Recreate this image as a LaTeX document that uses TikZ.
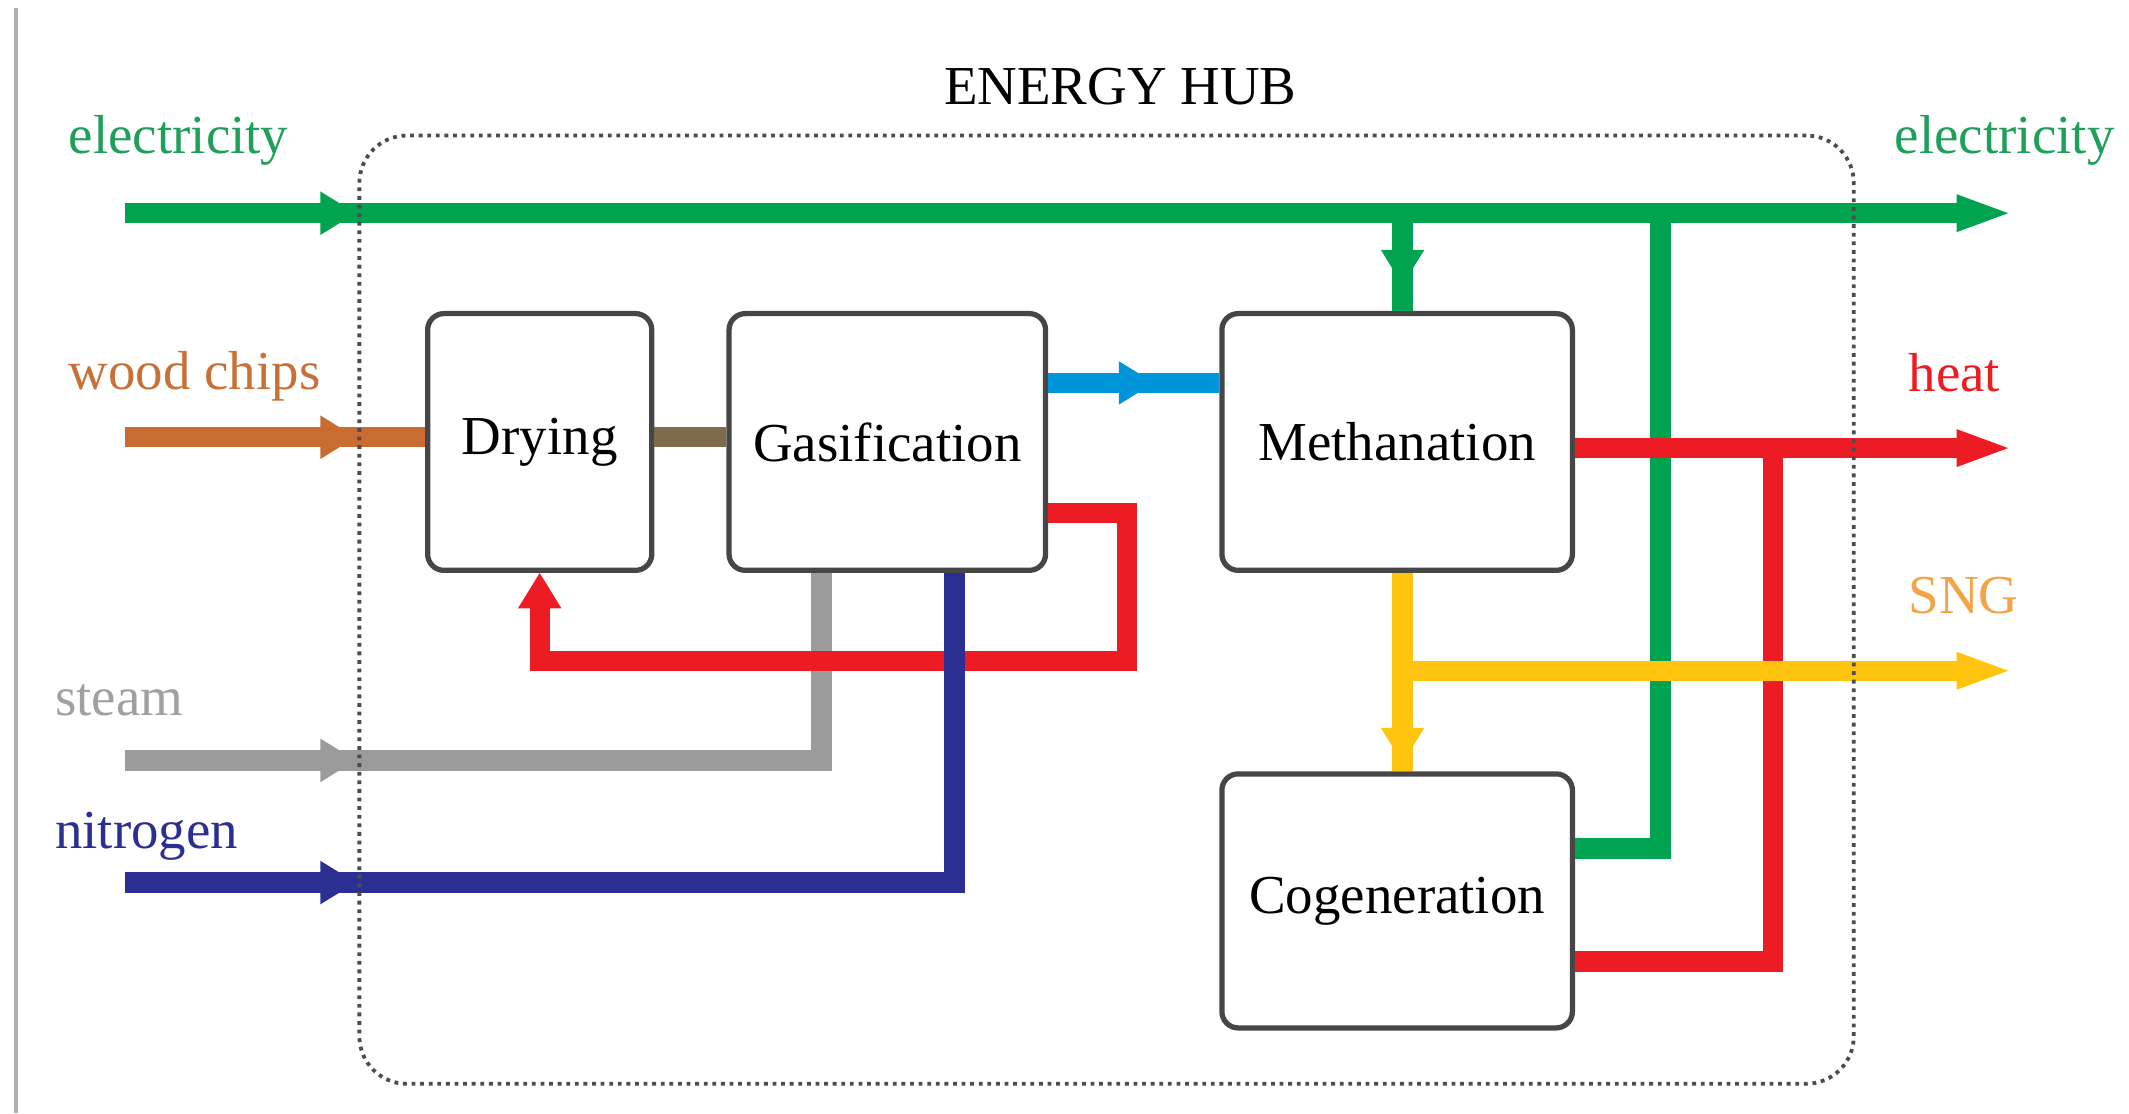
\documentclass[tikz,border=0pt]{standalone}
\usepackage{fontspec}
\setmainfont{Liberation Serif}
\usetikzlibrary{arrows.meta}
\definecolor{cGreen}{RGB}{0,163,80}
\definecolor{cGreenT}{RGB}{30,160,90}
\definecolor{cOrange}{RGB}{201,108,50}
\definecolor{cOrangeT}{RGB}{200,113,55}
\definecolor{cBrown}{RGB}{128,106,76}
\definecolor{cBlue}{RGB}{0,149,218}
\definecolor{cRed}{RGB}{237,28,36}
\definecolor{cGray}{RGB}{155,155,155}
\definecolor{cGrayT}{RGB}{160,160,160}
\definecolor{cNavy}{RGB}{43,46,146}
\definecolor{cYellow}{RGB}{255,196,14}
\definecolor{cSNG}{RGB}{244,163,69}
\definecolor{cBox}{RGB}{70,70,70}
\tikzset{
  flow/.style={draw=#1, line width=4.27pt},
  inhead/.style={-{Triangle[length=0.26cm,width=0.32cm,line width=0pt]}},
  outhead/.style={-{Triangle[length=0.38cm,width=0.28cm,line width=0pt]}},
  unit/.style={draw=cBox, fill=white, line width=1.1pt, rounded corners=0.12cm,
    inner sep=0pt, font=\fontsize{11.5}{13}\selectfont},
  lbl/.style={inner sep=0pt, font=\fontsize{11.5}{13}\selectfont},
}
\begin{document}
\begin{tikzpicture}[x=0.01cm, y=-0.01cm]
\useasboundingbox (0,0) rectangle (1568,820);
% left frame line
\coordinate (fTop) at (12,6);
\coordinate (fBot) at (12,820);
\draw[cGray!80, line width=0.8pt] (fTop) -- (fBot);

% process units
\node[unit, minimum width=1.65cm, minimum height=1.89cm] (dry) at (397.5,325.5) {Drying};
\node[unit, minimum width=2.33cm, minimum height=1.89cm] (gas) at (653.5,325.5) {Gasification};
\node[unit, minimum width=2.58cm, minimum height=1.89cm] (meth) at (1029,325.5) {Methanation};
\node[unit, minimum width=2.58cm, minimum height=1.87cm] (cog) at (1029,663.5) {Cogeneration};

% coordinates of flows
\coordinate (eIn) at (92,157);
\coordinate (eTip) at (262,157);
\coordinate (eOut) at (1479,157);
\coordinate (eDown) at (1033,157);
\coordinate (eDownTip) at (1033,210);
\coordinate (eCogA) at (1223,625);
\coordinate (eCogB) at (1223,157);
\coordinate (wIn) at (92,322);
\coordinate (wTip) at (262,322);
\coordinate (bl) at (780,282);
\coordinate (blTip) at (850,282);
\coordinate (fbA) at (830,378);
\coordinate (fbB) at (830,487);
\coordinate (sIn) at (92,560);
\coordinate (sTip) at (262,560);
\coordinate (sCorner) at (605,560);
\coordinate (nIn) at (92,650);
\coordinate (nTip) at (262,650);
\coordinate (nCorner) at (703,650);
\coordinate (hOut) at (1479,330);
\coordinate (hCogA) at (1306,708);
\coordinate (hCogB) at (1306,330);
\coordinate (yTip) at (1033,562);
\coordinate (yJoin) at (1033,494);
\coordinate (gOut) at (1479,494);

% electricity
\draw[flow=cGreen, outhead] (eIn) -- (eOut);
\draw[flow=cGreen, inhead] (eIn) -- (eTip);
\draw[flow=cGreen] (eDown) -- (eDown |- meth.north);
\draw[flow=cGreen, inhead] (eDown) -- (eDownTip);
\draw[flow=cGreen] (cog.east |- eCogA) -- (eCogA) -- (eCogB);
% steam
\draw[flow=cGray] (sIn) -- (sCorner) -- (sCorner |- gas.south);
\draw[flow=cGray, inhead] (sIn) -- (sTip);
% heat recycle
\draw[flow=cRed, inhead] (gas.east |- fbA) -- (fbA) -- (fbB) -- (dry.south |- fbB) -- (dry.south);
% nitrogen
\draw[flow=cNavy] (nIn) -- (nCorner) -- (nCorner |- gas.south);
\draw[flow=cNavy, inhead] (nIn) -- (nTip);
% wood chips
\draw[flow=cOrange] (wIn) -- (dry.west |- wIn);
\draw[flow=cOrange, inhead] (wIn) -- (wTip);
\draw[flow=cBrown] (dry.east |- wTip) -- (gas.west |- wTip);
% syngas
\draw[flow=cBlue] (gas.east |- bl) -- (meth.west |- bl);
\draw[flow=cBlue, inhead] (gas.east |- bl) -- (blTip);
% heat out
\draw[flow=cRed] (cog.east |- hCogA) -- (hCogA) -- (hCogB);
\draw[flow=cRed, outhead] (meth.east |- hOut) -- (hOut);
% SNG
\draw[flow=cYellow] (meth.south -| yTip) -- (yTip |- cog.north);
\draw[flow=cYellow, inhead] (meth.south -| yTip) -- (yTip);
\draw[flow=cYellow, outhead] (yJoin) -- (gOut);

% energy hub boundary
\node[draw=black!70, densely dotted, line width=0.8pt, rounded corners=0.35cm,
  minimum width=11cm, minimum height=6.98cm, inner sep=0pt] (hub) at (815,449) {};
\node[lbl, anchor=base] (hubT) at (825,77) {ENERGY HUB};

% labels
\node[lbl, anchor=base west, text=cGreenT] (lE1) at (50,113) {electricity};
\node[lbl, anchor=base west, text=cOrangeT] (lW) at (50,287) {wood chips};
\node[lbl, anchor=base west, text=cGrayT] (lS) at (40,527) {steam};
\node[lbl, anchor=base west, text=cNavy] (lN) at (40,625) {nitrogen};
\node[lbl, anchor=base east, text=cGreenT] (lE2) at (1558,113) {electricity};
\node[lbl, anchor=base west, text=cRed] (lH) at (1405,288) {heat};
\node[lbl, anchor=base west, text=cSNG] (lG) at (1405,452) {SNG};
\end{tikzpicture}
\end{document}
